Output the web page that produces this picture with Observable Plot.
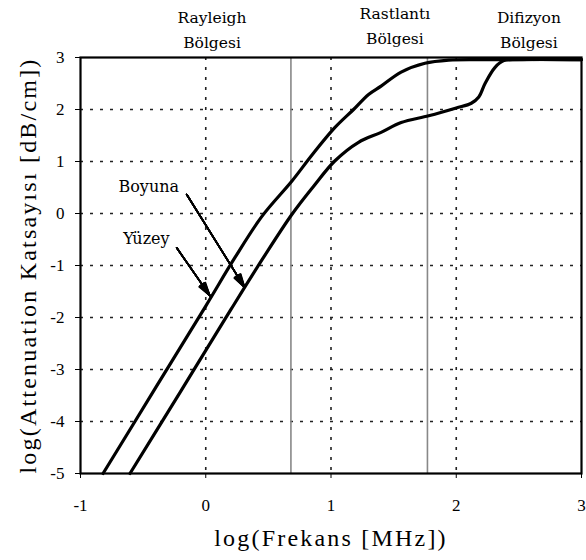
<!DOCTYPE html>
<html>
<head>
<meta charset="utf-8">
<script src="https://cdn.jsdelivr.net/npm/d3@7"></script>
<script src="https://cdn.jsdelivr.net/npm/@observablehq/plot@0.6"></script>
<style>
  body { margin: 0; background: white; }
  #chart svg text { font-family: "Liberation Serif", serif; }
  #chart svg .axlab text { letter-spacing: 2.2px; }
  #chart svg .anno text { font-family: "DejaVu Serif", serif; }
</style>
</head>
<body>
<div id="chart"></div>
<script>
// Yüzey (surface) curve
const yuzeyX = [-0.82, -0.4, 0.0, 0.23, 0.45, 0.69, 0.85, 1.03, 1.18, 1.30, 1.40, 1.56, 1.75, 1.94, 2.2, 3.0];
const yuzeyY = [-5, -3.35, -1.78, -0.86, -0.05, 0.63, 1.13, 1.65, 2.0, 2.29, 2.45, 2.72, 2.89, 2.95, 2.96, 2.96];
// Boyuna (longitudinal) curve
const boyunaX = [-0.605, -0.2, 0.2, 0.46, 0.69, 0.86, 1.03, 1.22, 1.40, 1.56, 1.78, 2.0, 2.12, 2.18, 2.23, 2.31, 2.38, 2.5, 3.0];
const boyunaY = [-5, -3.42, -1.85, -0.85, -0.01, 0.52, 1.01, 1.37, 1.56, 1.75, 1.88, 2.03, 2.12, 2.24, 2.5, 2.81, 2.94, 2.96, 2.96];

const xTicks = [-1, 0, 1, 2, 3];
const yTicks = [-5, -4, -3, -2, -1, 0, 1, 2, 3];
const xGrid = [0, 1, 2];
const yGrid = [-4, -3, -2, -1, 0, 1, 2];
const boundaryX = [0.68, 1.77];

const regionNames = ["Rayleigh\nBölgesi", "Rastlantı\nBölgesi", "Difizyon\nBölgesi"];
const regionX = [0.05, 1.51, 2.58];
const regionY = [3.57, 3.66, 3.58];

const seriesNames = ["Boyuna", "Yüzey"];
const seriesLabelX = [-0.455, -0.474];
const seriesLabelY = [0.51, -0.48];
const arrowX1 = [-0.152, -0.232];
const arrowY1 = [0.365, -0.66];
const arrowX2 = [0.31, 0.033];
const arrowY2 = [-1.42, -1.58];

const xLabel = "log(Frekans [MHz])";
const yLabel = "log(Attenuation Katsayısı [dB/cm])";

const yuzey = yuzeyX.map((x, i) => ({x, y: yuzeyY[i]}));
const boyuna = boyunaX.map((x, i) => ({x, y: boyunaY[i]}));
const regions = regionNames.map((name, i) => ({name, x: regionX[i], y: regionY[i]}));
const notes = seriesNames.map((name, i) => ({
  name, x: seriesLabelX[i], y: seriesLabelY[i],
  x1: arrowX1[i], y1: arrowY1[i], x2: arrowX2[i], y2: arrowY2[i]
}));
const fmt = d => d < 0 ? "-" + Math.abs(d) : String(d);

// layered arrowheads of narrowing angle give a filled head
const headAngles = [4, 8, 12, 16, 20, 24, 28, 32];
const arrowMarks = headAngles.map(a =>
  Plot.arrow(notes, {x1: "x1", y1: "y1", x2: "x2", y2: "y2", stroke: "black", strokeWidth: 1.6, headLength: 13, headAngle: a})
);

const chart = Plot.plot({
  width: 586,
  height: 560,
  marginLeft: 80,
  marginRight: 5,
  marginTop: 57,
  marginBottom: 87,
  style: {fontFamily: "Liberation Serif", fontSize: "17px", color: "black", background: "white"},
  x: {domain: [-1, 3]},
  y: {domain: [-5, 3]},
  marks: [
    Plot.ruleX(xGrid, {stroke: "#222", strokeWidth: 1.6, strokeDasharray: "3,7"}),
    Plot.ruleY(yGrid, {stroke: "#222", strokeWidth: 1.6, strokeDasharray: "3,7"}),
    Plot.ruleX(boundaryX, {stroke: "#888", strokeWidth: 1.6}),
    Plot.line(yuzey, {x: "x", y: "y", stroke: "black", strokeWidth: 3.2, curve: "catmull-rom"}),
    Plot.line(boyuna, {x: "x", y: "y", stroke: "black", strokeWidth: 3.2, curve: "catmull-rom"}),
    ...arrowMarks,
    Plot.text(notes, {x: "x", y: "y", text: "name", fontSize: 16, className: "anno"}),
    Plot.text(regions, {x: "x", y: "y", text: "name", fontSize: 15.5, lineHeight: 1.6, className: "anno"}),
    Plot.frame({stroke: "black", strokeWidth: 2.2}),
    Plot.axisX({ticks: xTicks, tickSize: 5, tickPadding: 20, label: null, fontSize: 17, tickFormat: fmt}),
    Plot.axisY({ticks: yTicks, tickSize: 5, tickPadding: 11, label: null, fontSize: 17, tickFormat: fmt}),
    Plot.text([xLabel], {frameAnchor: "bottom", textAnchor: "middle", dy: 72, fontSize: 24, className: "axlab"}),
    Plot.text([yLabel], {frameAnchor: "left", textAnchor: "middle", rotate: -90, dx: -52, fontSize: 24, className: "axlab"})
  ]
});
document.getElementById("chart").appendChild(chart);
</script>
</body>
</html>
